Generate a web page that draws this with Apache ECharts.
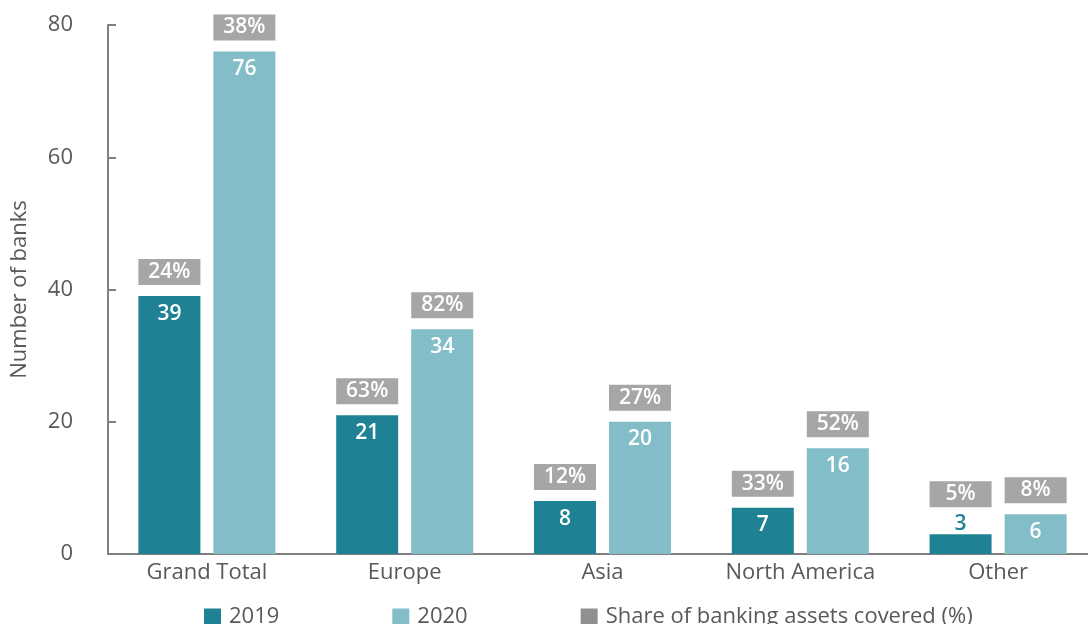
<!DOCTYPE html>
<html>
<head>
<meta charset="utf-8">
<script src="https://cdn.jsdelivr.net/npm/echarts@6/dist/echarts.min.js"></script>
<style>
  html, body { margin: 0; padding: 0; background: #ffffff; }
  #chart { width: 1088px; height: 624px; }
</style>
</head>
<body>
<div id="chart"></div>
<script>
// Regions on the category axis
const categories = ['Grand Total', 'Europe', 'Asia', 'North America', 'Other'];
// Number of banks per region
const banks2019 = [39, 21, 8, 7, 3];
const banks2020 = [76, 34, 20, 16, 6];
// Share of banking assets covered (%)
const share2019 = [24, 63, 12, 33, 5];
const share2020 = [38, 82, 27, 52, 8];
// Y axis ticks
const yTicks = [0, 20, 40, 60, 80];

const C2019 = '#1f8294';
const C2020 = '#83bdc8';
const CSHARE = '#a6a6a6';
const TXT = '#595959';
const FONT = '"Open Sans", "Noto Sans", sans-serif';
const SHARE_NAME = 'Share of banking assets covered (%)';

const BAR_W = 62;
const BAR_GAP = '21%';

// value labels sit inside the bar top; very short bars get them above in bar colour
function valueData(values, color) {
  return values.map(v => v < 5
    ? { value: v, label: { position: 'top', distance: 0, color: color } }
    : v);
}

// transparent overlay bars carry the grey share boxes above each bar
function shareData(values, shares, bars) {
  return values.map((v, i) => ({
    value: v,
    share: shares[i],
    label: bars[i] < 5 ? { distance: 27 } : undefined
  }));
}

const shareLabel = {
  show: true,
  position: 'top',
  distance: 11,
  formatter: p => p.data.share + '%',
  backgroundColor: CSHARE,
  color: '#ffffff',
  fontFamily: FONT,
  fontSize: 21,
  fontWeight: 600,
  width: BAR_W,
  height: 26,
  lineHeight: 26,
  padding: 0
};

const valueLabel = {
  show: true,
  position: 'insideTop',
  distance: 7,
  color: '#ffffff',
  fontFamily: FONT,
  fontSize: 21,
  fontWeight: 600
};

const chart = echarts.init(document.getElementById('chart'), null, { renderer: 'canvas' });

chart.setOption({
  animation: false,
  backgroundColor: '#ffffff',
  grid: { left: 108, right: -9, top: 25, bottom: 70, containLabel: false, outerBoundsMode: 'none' },
  legend: {
    left: 199,
    top: 601,
    itemWidth: 17,
    itemHeight: 17,
    itemGap: 113,
    icon: 'rect',
    textStyle: { color: TXT, fontFamily: FONT, fontSize: 22, padding: [0, 0, 0, 3] },
    data: [
      { name: '2019', itemStyle: { color: C2019 } },
      { name: '2020', itemStyle: { color: C2020 } },
      { name: SHARE_NAME, itemStyle: { color: '#909090' } }
    ]
  },
  xAxis: [
    {
      type: 'category',
      data: categories,
      axisLine: { lineStyle: { color: '#7f7f7f', width: 2 } },
      axisTick: { show: false },
      axisLabel: { color: TXT, fontFamily: FONT, fontSize: 22, margin: 8 }
    },
    {
      type: 'category',
      data: categories,
      show: false
    }
  ],
  yAxis: {
    type: 'value',
    min: yTicks[0],
    max: yTicks[yTicks.length - 1],
    interval: yTicks[1] - yTicks[0],
    name: 'Number of banks',
    nameLocation: 'middle',
    nameRotate: 90,
    nameGap: 77,
    nameTextStyle: { color: TXT, fontFamily: FONT, fontSize: 22 },
    axisLine: { show: true, lineStyle: { color: '#7f7f7f', width: 2 } },
    axisTick: { show: true, inside: true, length: 8, lineStyle: { color: '#7f7f7f', width: 2 } },
    splitLine: { show: false },
    axisLabel: { color: TXT, fontFamily: FONT, fontSize: 22, margin: 35 }
  },
  series: [
    {
      name: '2019',
      type: 'bar',
      barWidth: BAR_W,
      barGap: BAR_GAP,
      itemStyle: { color: C2019 },
      label: valueLabel,
      data: valueData(banks2019, C2019)
    },
    {
      name: '2020',
      type: 'bar',
      barWidth: BAR_W,
      barGap: BAR_GAP,
      itemStyle: { color: C2020 },
      label: valueLabel,
      data: valueData(banks2020, C2020)
    },
    {
      name: SHARE_NAME,
      type: 'bar',
      xAxisIndex: 1,
      barWidth: BAR_W,
      barGap: BAR_GAP,
      itemStyle: { color: 'rgba(0,0,0,0)' },
      label: shareLabel,
      silent: true,
      data: shareData(banks2019, share2019, banks2019)
    },
    {
      name: SHARE_NAME,
      type: 'bar',
      xAxisIndex: 1,
      barWidth: BAR_W,
      barGap: BAR_GAP,
      itemStyle: { color: 'rgba(0,0,0,0)' },
      label: shareLabel,
      silent: true,
      data: shareData(banks2020, share2020, banks2020)
    }
  ]
});
</script>
</body>
</html>
